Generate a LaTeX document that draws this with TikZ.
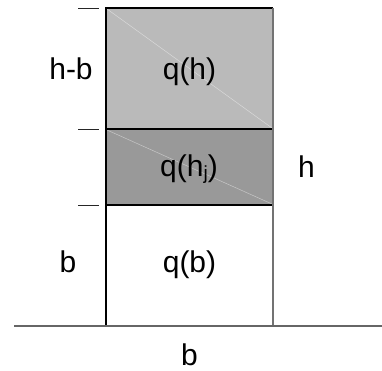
\documentclass[tikz,border=0pt]{standalone}
\usepackage{fontspec}
\setmainfont{Liberation Sans}
\begin{document}
\begin{tikzpicture}[x=1pt,y=-1pt,
  lbl/.style={anchor=base,inner sep=0pt,font=\fontsize{30}{30}\selectfont},
  tick/.style={line width=1pt,black!85},
  edge/.style={line width=1.5pt,black},
  diag/.style={line width=0.5pt,white,opacity=0.45}]
\useasboundingbox (0,0) rectangle (382,370);
% shaded rectangles
\fill[black!27] (106,8) rectangle (273,129);
\fill[black!40] (106,129) rectangle (273,205);
\draw[diag] (107,9) -- (272,128);
\draw[diag] (107,130) -- (272,204);
% box
\draw[edge] (273,8) -- (106,8) -- (106,325);
\draw[edge] (106,129) -- (273,129);
\draw[edge] (106,205) -- (273,205);
\draw[line width=1.5pt,black!55] (273,8) -- (273,325);
% baseline
\draw[line width=2pt,black!60] (14,325.5) -- (382,325.5);
% ticks
\draw[tick] (78,8) -- (99,8);
\draw[tick] (78,129) -- (99,129);
\draw[tick] (78,205) -- (99,205);
% labels
\node[lbl] (hb) at (71,79) {h-b};
\node[lbl] (qh) at (189.5,79) {q(h)};
\node[lbl] (qhj) at (189,176) {q(h\raisebox{-3pt}{\fontsize{19}{19}\selectfont j})};
\node[lbl] (h) at (306.5,177) {h};
\node[lbl] (bl) at (68,272) {b};
\node[lbl] (qb) at (189.5,272) {q(b)};
\node[lbl] (bb) at (189.5,365) {b};
\end{tikzpicture}
\end{document}
